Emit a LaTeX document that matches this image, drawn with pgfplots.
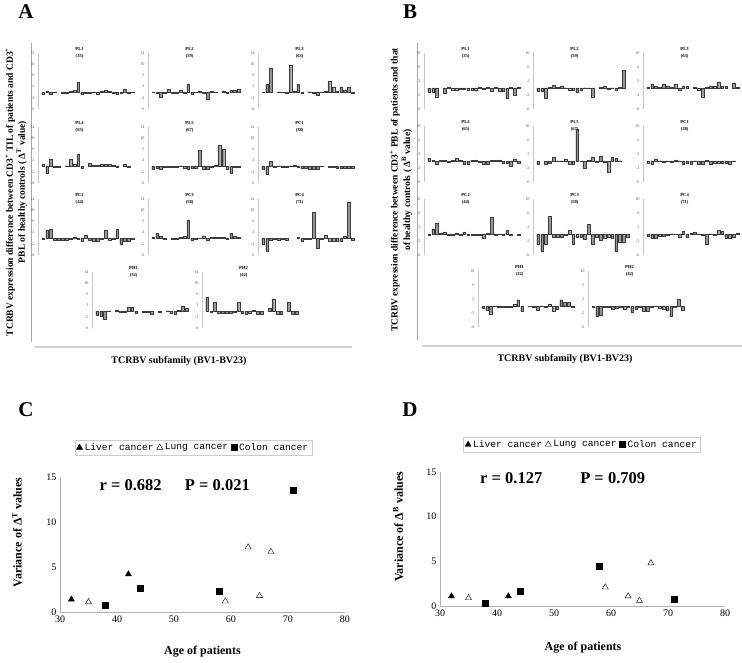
\documentclass[border=0pt]{standalone}
\usepackage{pgfplots}
\pgfplotsset{compat=1.18}
\usepackage{pgfplotstable}
\usepackage{fontspec}
\setmainfont{Liberation Serif}
\newfontfamily\legfont{Liberation Mono}

\pgfplotstableread{
bv PL1 PL2 PL3 PL4 PL5 PC1 PC2 PC3 PC4 PH1 PH2
1 -0.6 0.1 0.1 0.6 -1.2 -1.2 -0.2 0.3 -2.0 -1.5 5.0
2 0.3 -0.5 2.8 -2.5 -0.6 -2.8 3.0 1.8 -4.5 -1.8 -0.2
3 -0.6 -1.8 8.5 2.5 -1.2 1.8 3.3 0.6 -0.8 -2.8 3.2
4 0.1 -0.3 nan -0.3 -0.3 -0.3 -0.6 -0.2 -0.3 0.2 -0.8
5 nan 1.0 0.2 -0.3 -0.3 0.2 -0.6 nan -0.8 nan -0.8
6 -0.3 -0.4 0.1 nan -0.3 -0.5 -0.6 -0.2 -0.3 0.3 -0.8
7 -0.3 -0.2 -0.5 0.2 -0.3 -0.5 -0.8 -0.2 -0.8 -0.3 -0.8
8 0.5 0.8 9.5 2.5 0.2 0.2 -0.3 0.3 nan -0.2 -0.2
9 0.6 -0.2 0.3 0.8 -0.8 0.5 0.3 0.8 nan 1.5 3.2
10 3.5 3.0 2.8 4.2 -1.0 -0.3 -0.3 6.5 0.3 1.5 -0.8
11 -0.6 -0.8 -0.3 -0.8 -0.6 -0.8 -1.0 -0.8 -1.2 -0.8 -1.0
12 -0.3 -0.1 nan nan -0.6 -0.6 1.2 -0.5 -0.5 nan -0.5
13 -0.2 0.5 0.2 1.2 5.8 -1.2 -0.8 0.1 -0.5 -0.3 0.3
14 0.2 -0.3 -0.5 0.3 -1.0 -1.2 -1.0 0.8 9.2 -0.2 -1.2
15 -0.7 -2.5 -1.2 0.3 -1.0 -1.2 -1.0 -0.8 -3.5 -1.0 -1.0
16 0.5 0.5 0.1 0.6 -0.2 0.1 -0.2 0.5 -0.2 nan nan
17 0.6 0.1 0.5 0.6 0.5 nan 3.0 0.3 1.2 -0.3 1.0
18 0.5 nan 3.8 0.6 7.5 -0.5 -0.8 0.3 -1.0 nan 4.5
19 -0.2 0.5 1.8 0.4 6.0 -0.5 -0.2 0.3 -1.0 0.2 -1.2
20 -0.6 -0.3 0.4 -0.3 -1.0 -0.8 3.2 -0.2 -1.0 -0.5 -1.2
21 -0.4 0.6 1.8 nan -2.5 -0.8 -2.2 1.8 -1.2 -1.2 nan
22 1.2 0.6 0.8 0.6 -0.2 -0.8 -1.0 0.8 0.8 0.3 3.2
23 -0.5 1.2 1.8 -0.4 -0.5 -0.8 -1.0 0.5 13.0 2.0 -1.0
24 0.1 nan -0.3 nan nan -0.8 -0.5 nan -0.8 1.2 -1.0
}\tabA

\pgfplotstableread{
bv PL1 PL2 PL3 PL4 PL5 PC1 PC2 PC3 PC4 PH1 PH2
1 -1.2 -0.8 0.3 0.8 -1.0 -0.5 -0.3 -2.8 -0.6 -0.5 -0.2
2 -1.2 -0.8 1.2 0.2 nan -0.8 1.5 -5.0 -1.2 -1.2 -2.8
3 -2.5 -2.8 0.6 -0.8 -1.0 0.5 3.0 -2.8 -1.2 -2.2 -2.5
4 nan 0.2 0.2 0.2 -0.6 0.1 0.3 5.0 -0.6 0.1 -0.3
5 -1.5 0.8 1.2 0.2 1.2 -0.3 0.6 -0.8 -0.6 -0.2 -0.3
6 0.3 0.2 0.6 -0.3 0.1 0.1 -0.2 -0.8 -0.3 -0.3 -0.8
7 -0.5 0.6 0.2 0.2 0.1 -0.3 -0.3 -0.8 0.1 -0.3 -0.6
8 -0.5 0.1 1.2 0.8 0.6 0.3 0.3 -0.3 -0.1 -0.2 -0.2
9 -0.2 -0.5 -0.6 0.2 -1.0 0.1 -0.2 1.0 -0.8 0.5 -0.8
10 -0.2 -0.5 0.6 -0.8 -1.0 -0.8 0.6 -2.8 0.8 1.8 -0.3
11 -0.5 -1.2 0.6 -0.8 9.0 -0.6 -0.3 -1.0 -0.8 -1.5 -1.8
12 -0.5 -0.6 nan 0.2 0.1 -0.8 -0.2 -0.8 0.2 nan -1.0
13 -0.5 0.1 0.3 0.3 -2.0 0.1 -0.2 -1.5 0.6 -0.1 -0.3
14 0.3 0.1 -0.5 -0.2 0.3 -0.8 -0.2 2.8 0.1 -0.3 -1.5
15 -0.2 -2.5 -2.5 -1.0 1.2 -0.8 -1.2 -2.8 -0.3 -1.2 -1.5
16 0.3 nan 0.3 -0.8 -0.3 0.2 0.2 -1.0 -2.8 0.1 -0.2
17 -1.0 0.2 0.6 0.2 1.3 -0.8 4.8 -1.8 0.1 -0.3 0.1
18 0.2 0.6 0.6 0.2 -0.3 -0.6 -0.3 -1.2 -0.2 0.6 -0.6
19 -0.8 -0.3 1.8 0.3 -3.2 -0.6 0.1 -1.0 1.0 -1.5 -0.8
20 -0.8 0.1 0.6 -0.6 1.0 -0.6 -0.3 -1.2 0.8 -0.8 -1.2
21 -2.8 -0.6 0.6 -0.6 0.8 -0.6 1.0 -5.0 -1.2 1.8 -3.0
22 0.3 0.2 nan -1.5 0.1 -0.8 -0.2 -2.2 -1.2 1.0 -0.2
23 -2.0 5.2 1.5 0.6 nan 0.1 nan -2.2 -0.8 1.0 2.0
24 0.2 nan 0.2 -0.6 nan nan -0.3 -0.8 0.3 -0.3 -1.2
}\tabB

\definecolor{barfill}{RGB}{150,150,150}
\definecolor{baredge}{RGB}{60,60,60}

\pgfplotsset{
  sm/.style={anchor=north west, scale only axis, width=96.7pt, height=56pt,
    xmin=-0.3, xmax=24.5, axis x line=none, axis y line*=left,
    axis line style={gray!45, line width=0.4pt}, ytick style={draw=none},
    yticklabel style={font=\fontsize{4.2}{4.2}\selectfont, text=gray!70!black},
    /pgf/number format/assume math mode=true,
    ybar, bar width=0.7, clip=false},
  smA/.style={sm, ymin=-6, ymax=14, ytick={-6,-2,2,6,10,14}},
  smB/.style={sm, ymin=-6, ymax=10, ytick={-6,-2,2,6,10}},
  sc/.style={anchor=south west, scale only axis, width=285pt,
    xmin=30, xmax=80, ymin=0, ymax=15, xtick={30,40,...,80}, ytick={0,5,10,15},
    axis x line*=bottom, axis y line*=left, axis line style={gray!60},
    tick style={draw=none},
    ticklabel style={font=\fontsize{10}{10}\selectfont},
    /pgf/number format/assume math mode=true,
    label style={font=\bfseries\fontsize{12}{14}\selectfont},
    legend columns=3,
    legend style={draw=gray!40, anchor=center, inner sep=1.5pt,
      font=\legfont\fontsize{9.6}{10}\selectfont,
      /tikz/every even column/.append style={column sep=1pt}}},
}

\newcommand{\sm}[6]{%
\begin{axis}[#1, at={(#4pt,-#5pt)}]
\addplot[ybar, fill=barfill, draw=baredge, line width=0.2pt] table[x=bv, y=#3] {#2};
\node[font=\fontsize{4.6}{7}\selectfont\bfseries, align=center] at (rel axis cs:0.43,1) {#6};
\end{axis}}

\begin{document}
\begin{tikzpicture}
\path[use as bounding box] (0,0) rectangle (742pt,-663pt);

% panel letters
\node[font=\bfseries\fontsize{21}{24}\selectfont] at (26pt,-12pt) {A};
\node[font=\bfseries\fontsize{21}{24}\selectfont] at (410pt,-12pt) {B};
\node[font=\bfseries\fontsize{21}{24}\selectfont] at (26pt,-410pt) {C};
\node[font=\bfseries\fontsize{21}{24}\selectfont] at (410pt,-410pt) {D};

% frames
\draw[gray!70, line width=0.6pt] (31pt,-43pt) -- (31pt,-342pt);
\draw[gray!35, line width=1.5pt] (35pt,-347pt) -- (352pt,-347pt);
\draw[gray!70, line width=0.6pt] (417pt,-43pt) -- (417pt,-340pt);
\draw[gray!35, line width=1.5pt] (422pt,-346pt) -- (742pt,-346pt);

% panel A
\sm{smA}{\tabA}{PL1}{38}{53}{PL1\\(35)}
\sm{smA}{\tabA}{PL2}{148}{53}{PL2\\(59)}
\sm{smA}{\tabA}{PL3}{258}{53}{PL3\\(63)}
\sm{smA}{\tabA}{PL4}{38}{127}{PL4\\(65)}
\sm{smA}{\tabA}{PL5}{148}{127}{PL5\\(67)}
\sm{smA}{\tabA}{PC1}{258}{127}{PC1\\(38)}
\sm{smA}{\tabA}{PC2}{38}{199}{PC2\\(44)}
\sm{smA}{\tabA}{PC3}{148}{199}{PC3\\(58)}
\sm{smA}{\tabA}{PC4}{258}{199}{PC4\\(71)}
\sm{smA}{\tabA}{PH1}{92}{272}{PH1\\(32)}
\sm{smA}{\tabA}{PH2}{202}{272}{PH2\\(42)}

\node[rotate=90, align=center, font=\bfseries\fontsize{9.5}{12}\selectfont] at (16pt,-192pt)
 {TCRBV expression difference between CD3\textsuperscript{+} TIL of patients and CD3\textsuperscript{+}\\PBL of healthy controls ( Δ\textsuperscript{T} value)};
\node[font=\bfseries\fontsize{10}{12}\selectfont] at (179pt,-361pt) {TCRBV subfamily (BV1-BV23)};

% panel B
\sm{smB}{\tabB}{PL1}{424}{53}{PL1\\(35)}
\sm{smB}{\tabB}{PL2}{533}{53}{PL2\\(59)}
\sm{smB}{\tabB}{PL3}{643}{53}{PL3\\(63)}
\sm{smB}{\tabB}{PL4}{424}{126}{PL4\\(65)}
\sm{smB}{\tabB}{PL5}{533}{126}{PL5\\(67)}
\sm{smB}{\tabB}{PC1}{643}{126}{PC1\\(38)}
\sm{smB}{\tabB}{PC2}{424}{199}{PC2\\(44)}
\sm{smB}{\tabB}{PC3}{533}{199}{PC3\\(58)}
\sm{smB}{\tabB}{PC4}{643}{199}{PC4\\(71)}
\sm{smB}{\tabB}{PH1}{478}{271}{PH1\\(32)}
\sm{smB}{\tabB}{PH2}{588}{271}{PH2\\(42)}

\node[rotate=90, align=center, font=\bfseries\fontsize{9.5}{12.5}\selectfont] at (401pt,-190pt)
 {TCRBV expression difference between CD3\textsuperscript{+} PBL of patients and that\\of healthy controls ( Δ\textsuperscript{B} value)};
\node[font=\bfseries\fontsize{10}{12}\selectfont] at (565pt,-359pt) {TCRBV subfamily (BV1-BV23)};

% panel C
\begin{axis}[sc, at={(60pt,-612pt)}, height=135pt,
  xlabel={Age of patients}, ylabel={Variance of Δ\textsuperscript{T} values},
  x label style={at={(axis description cs:0.5,-0.296)}, anchor=center},
  y label style={at={(axis description cs:-0.151,0.589)}, anchor=center},
  legend style={at={(0.468,1.218)}}]
\addplot[only marks, mark=triangle*, mark size=3.5pt, black] coordinates {(32,1.4) (42,4.2)};
\addlegendentry{Liver cancer}
\addplot[only marks, mark=triangle, mark size=3.5pt, black, mark options={fill=white}] coordinates {(35,1.1) (59,1.2) (63,7.2) (65,1.8) (67,6.7)};
\addlegendentry{Lung cancer}
\addplot[only marks, mark=square*, mark size=3pt, black] coordinates {(38,0.8) (44,2.6) (58,2.3) (71,13.5)};
\addlegendentry{Colon cancer}
\node[font=\bfseries\fontsize{16.5}{18}\selectfont] at (axis cs:42.4,14.1) {r = 0.682};
\node[font=\bfseries\fontsize{16.5}{18}\selectfont] at (axis cs:57.6,14.1) {P = 0.021};
\end{axis}

% panel D
\begin{axis}[sc, at={(440pt,-606pt)}, height=134pt,
  xlabel={Age of patients}, ylabel={Variance of Δ\textsuperscript{B} values},
  x label style={at={(axis description cs:0.502,-0.313)}, anchor=center},
  y label style={at={(axis description cs:-0.147,0.59)}, anchor=center},
  legend style={at={(0.498,1.205)}}]
\addplot[only marks, mark=triangle*, mark size=3.5pt, black] coordinates {(32,1.1) (42,1.1)};
\addlegendentry{Liver cancer}
\addplot[only marks, mark=triangle, mark size=3.5pt, black, mark options={fill=white}] coordinates {(35,0.9) (59,2.1) (63,1.1) (65,0.6) (67,4.8)};
\addlegendentry{Lung cancer}
\addplot[only marks, mark=square*, mark size=3pt, black] coordinates {(38,0.3) (44,1.7) (58,4.5) (71,0.8)};
\addlegendentry{Colon cancer}
\node[font=\bfseries\fontsize{16.5}{18}\selectfont] at (axis cs:42.5,14.3) {r = 0.127};
\node[font=\bfseries\fontsize{16.5}{18}\selectfont] at (axis cs:60.3,14.3) {P = 0.709};
\end{axis}
\end{tikzpicture}
\end{document}
